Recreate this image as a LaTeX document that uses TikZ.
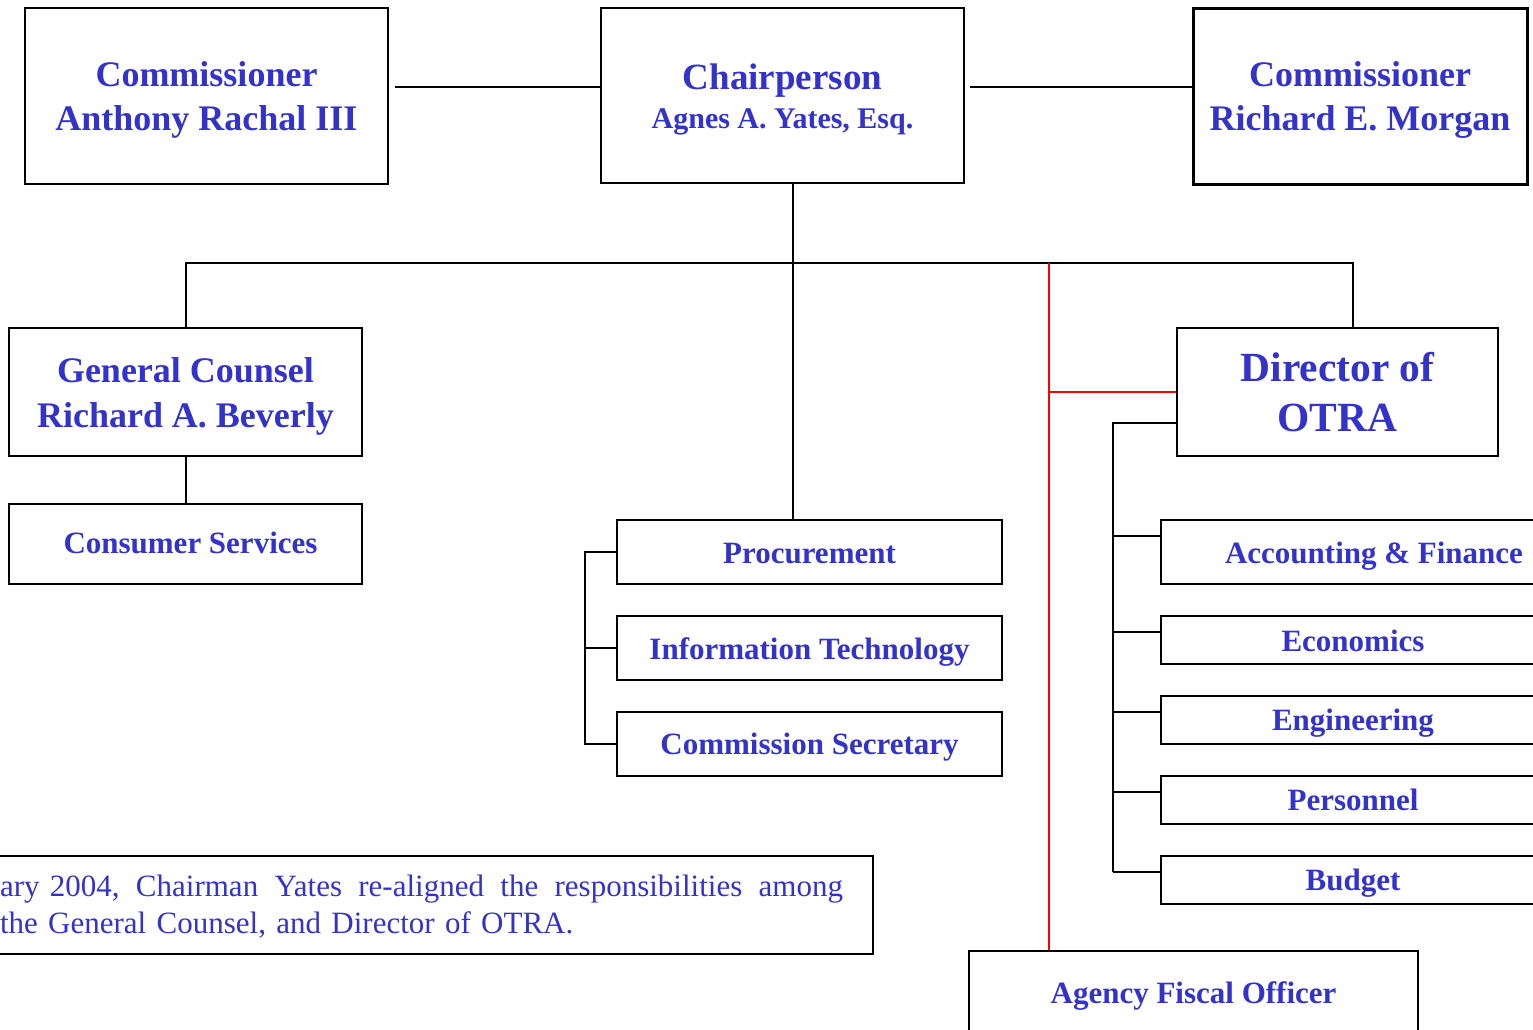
\documentclass[tikz,border=0pt]{standalone}
\usepackage{fontspec}
\setmainfont{Liberation Serif}
\definecolor{ink}{HTML}{3333CC}
\begin{document}
\begin{tikzpicture}[x=1pt,y=-1pt,
  box/.style={draw=black, line width=2.2pt, rectangle, inner sep=0pt, anchor=north,
              align=center, text=ink, font=\bfseries},
  link/.style={draw=black, line width=2pt},
  redlink/.style={draw=red, line width=2pt},
  big/.style={font=\fontsize{36}{44.5}\selectfont\bfseries},
  small/.style={font=\fontsize{31}{37}\selectfont\bfseries}]
\useasboundingbox (0,0) rectangle (1533,1029);
\fill[white] (0,0) rectangle (1533,1029);

% top row (text height = last baseline below the top edge)
\node[box, big, minimum width=363pt, text height=122.5pt, text depth=53.5pt]
  (comL) at (206.5,7) {Commissioner\\Anthony Rachal III};
\node[box, font=\fontsize{30}{39}\selectfont\bfseries, minimum width=363pt,
      text height=120pt, text depth=55pt]
  (chair) at (782.5,7) {{\fontsize{37}{39}\selectfont Chairperson}\\Agnes A. Yates, Esq.};
\node[box, big, line width=3pt, minimum width=334pt, text height=122pt, text depth=54pt]
  (comR) at (1360,7) {Commissioner\\Richard E. Morgan};

% second row
\node[box, big, minimum width=353pt, text height=99pt, text depth=29pt]
  (gc) at (185.5,327) {General Counsel\\Richard A. Beverly};
\node[box, small, minimum width=353pt, text height=49pt, text depth=31pt]
  (cons) at (185.5,503) {\hspace*{10pt}Consumer Services};
\node[box, font=\fontsize{41.5}{50}\selectfont\bfseries, minimum width=321pt,
      text height=103pt, text depth=25pt]
  (dir) at (1337.5,327) {Director of\\OTRA};

% staff units under the chair
\node[box, small, minimum width=385pt, text height=43pt, text depth=21pt]
  (proc) at (809.5,519) {Procurement};
\node[box, small, minimum width=385pt, text height=43pt, text depth=21pt]
  (it) at (809.5,615) {Information Technology};
\node[box, small, minimum width=385pt, text height=42pt, text depth=22pt]
  (sec) at (809.5,711) {Commission Secretary};

% OTRA divisions
\node[box, small, minimum width=384pt, text height=43pt, text depth=21pt]
  (acc) at (1353,519) {\hspace*{42pt}Accounting \& Finance};
\node[box, small, minimum width=384pt, text height=35pt, text depth=13pt]
  (eco) at (1353,615) {Economics};
\node[box, small, minimum width=384pt, text height=34pt, text depth=14pt]
  (eng) at (1353,695) {Engineering};
\node[box, small, minimum width=384pt, text height=34pt, text depth=14pt]
  (pers) at (1353,775) {Personnel};
\node[box, small, minimum width=384pt, text height=34pt, text depth=14pt]
  (bud) at (1353,855) {Budget};

% fiscal officer
\node[box, small, minimum width=449pt, text height=52pt, text depth=68pt]
  (fiscal) at (1193.5,950) {Agency Fiscal Officer};

% note (first line set flush to both edges)
\newcommand\gap{\hspace{0pt plus 1fill}}
\node[box, font=\fontsize{31}{37}\selectfont, minimum width=893pt, text width=853pt,
      align=left, text height=40pt, text depth=58pt]
  (note) at (426.5,855)
  {\hbox to 843pt{ary 2004,\gap{} Chairman\gap{} Yates\gap{} re-aligned\gap{} the\gap{} responsibilities\gap{} among}\\
   the General Counsel, and Director of OTRA.};

% connectors
\coordinate (topline) at (0,87);
\coordinate (busC) at (793,263);
\coordinate (busR) at (1353,263);
\coordinate (redX) at (1049,263);
\coordinate (brk) at (585,551);
\coordinate (spine) at (1113,423);

\draw[link] ([xshift=6pt]comL.east |- topline) -- (chair.west |- topline);
\draw[link] ([xshift=5pt]chair.east |- topline) -- (comR.west |- topline);
\draw[link] (busC |- chair.south) -- (busC |- proc.north);
\draw[link] (gc.north) |- (busR) -- (busR |- dir.north);
\draw[link] (gc.south) -- (cons.north);

\draw[link] (proc.west) -- (proc.west -| brk) -- (sec.west -| brk) -- (sec.west);
\draw[link] (it.west) -- (it.west -| brk);

\draw[redlink] (redX) -- (redX |- fiscal.north);
\draw[redlink] (redX |- dir.west) -- (dir.west);

\draw[link] (dir.west |- spine) -- (spine) -- ([yshift=8pt]bud.west -| spine);
\foreach \n/\s in {acc/16, eco/8, eng/8, pers/8, bud/8}
  \draw[link] ([yshift=\s pt]\n.west) -- ([yshift=\s pt]\n.west -| spine);
\end{tikzpicture}
\end{document}
